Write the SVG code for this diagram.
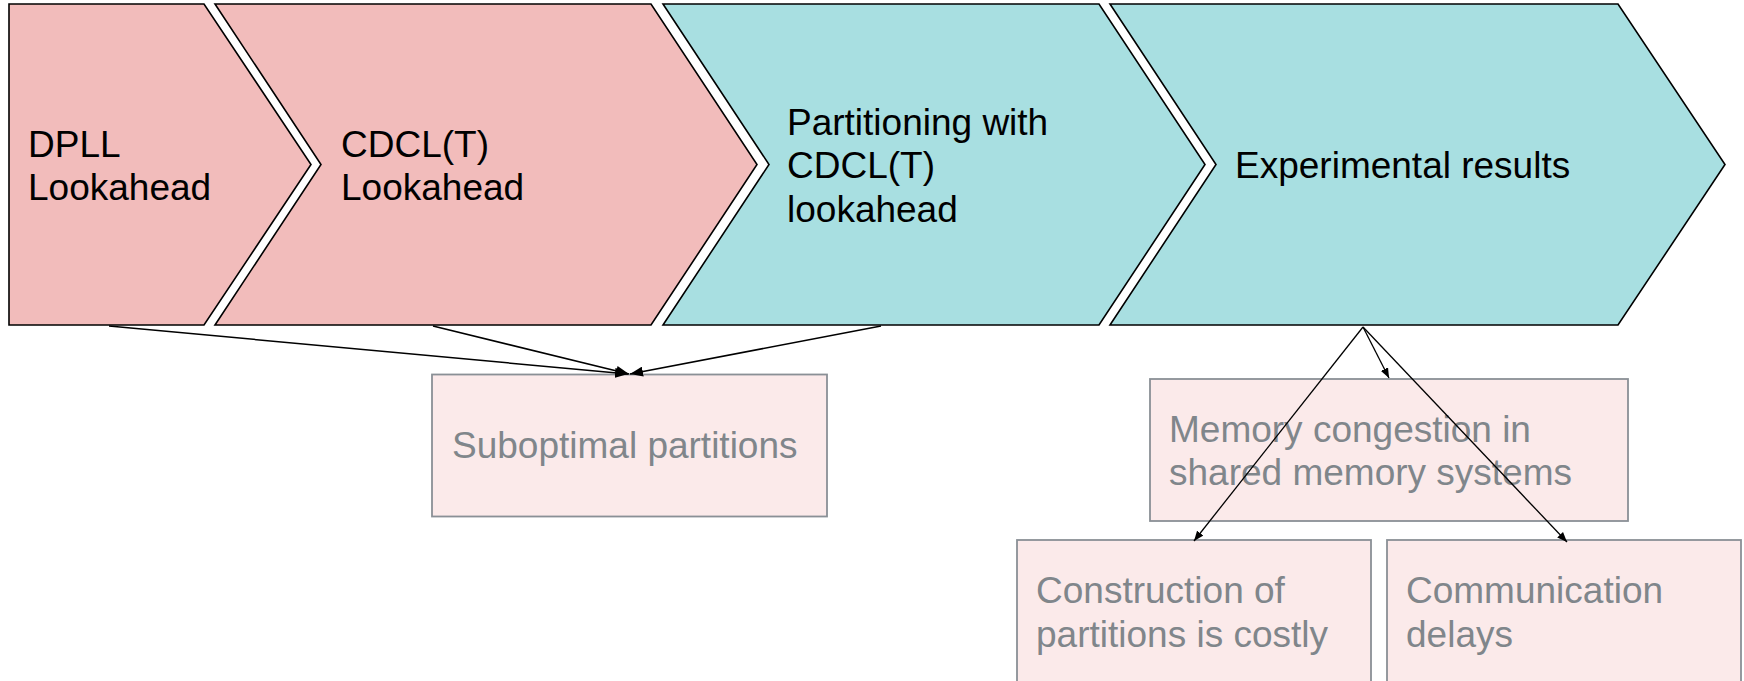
<svg xmlns="http://www.w3.org/2000/svg" width="1744" height="681" viewBox="0 0 1744 681">
<defs>
<style>
.chev{stroke:#000;stroke-width:1.6;stroke-linejoin:miter}
.pink{fill:#f2bcbb}
.teal{fill:#a8dfe1}
.t{font-family:"Liberation Sans",Arial,sans-serif;font-size:37px;fill:#000}
.box{fill:#fbeaea;stroke:#8a9096;stroke-width:1.8}
.g{font-family:"Liberation Sans",Arial,sans-serif;font-size:37px;fill:#80868b}
.c{stroke:#000;stroke-width:1.5;fill:none;marker-end:url(#ah)}
</style>
<marker id="ah" viewBox="0 0 10 8" refX="10" refY="4" markerWidth="10" markerHeight="8" markerUnits="userSpaceOnUse" orient="auto"><path d="M0,0 L10,4 L0,8 z" fill="#000"/></marker>
<marker id="ah2" viewBox="0 0 13 10" refX="13" refY="5" markerWidth="13" markerHeight="10" markerUnits="userSpaceOnUse" orient="auto"><path d="M0,0 L13,5 L0,10 z" fill="#000"/></marker>
</defs>
<rect width="1744" height="681" fill="#fff"/>
<g id="dpll">
<polygon class="chev pink" points="9,4 204,4 311,164.5 204,325 9,325"/>
<text class="t" x="28" y="157">DPLL</text>
<text class="t" x="28" y="200">Lookahead</text>
</g>
<g id="cdcl">
<polygon class="chev pink" points="215,4 651,4 757,164.5 651,325 215,325 321,164.5"/>
<text class="t" x="341" y="157">CDCL(T)</text>
<text class="t" x="341" y="200">Lookahead</text>
</g>
<g id="partitioning">
<polygon class="chev teal" points="663,4 1099,4 1205,164.5 1099,325 663,325 769,164.5"/>
<text class="t" x="787" y="135">Partitioning with</text>
<text class="t" x="787" y="178">CDCL(T)</text>
<text class="t" x="787" y="222">lookahead</text>
</g>
<g id="experimental">
<polygon class="chev teal" points="1110,4 1618,4 1725,164.5 1618,325 1110,325 1216,164.5"/>
<text class="t" x="1235" y="178">Experimental results</text>
</g>
<g id="suboptimal">
<rect class="box" x="432" y="374.5" width="395" height="142"/>
<text class="g" x="452" y="458">Suboptimal partitions</text>
</g>
<g id="memory">
<rect class="box" x="1150" y="379" width="478" height="142"/>
<text class="g" x="1169" y="442">Memory congestion in</text>
<text class="g" x="1169" y="485">shared memory systems</text>
</g>
<g id="construction">
<rect class="box" x="1017" y="540" width="354" height="160"/>
<text class="g" x="1036" y="603">Construction of</text>
<text class="g" x="1036" y="647">partitions is costly</text>
</g>
<g id="communication">
<rect class="box" x="1387" y="540" width="354" height="160"/>
<text class="g" x="1406" y="603">Communication</text>
<text class="g" x="1406" y="647">delays</text>
</g>
<g id="connectors">
<line class="c" style="marker-end:url(#ah2)" x1="109" y1="326" x2="628" y2="374"/>
<line class="c" style="marker-end:url(#ah2)" x1="433" y1="326" x2="629" y2="374"/>
<line class="c" style="marker-end:url(#ah2)" x1="881" y1="326" x2="630" y2="374"/>
<line class="c" style="stroke-width:1.3" x1="1363" y1="327" x2="1389" y2="378"/>
<line class="c" style="stroke-width:1.3" x1="1363" y1="327" x2="1194" y2="541"/>
<line class="c" style="stroke-width:1.3" x1="1363" y1="327" x2="1567" y2="542"/>
</g>
</svg>
